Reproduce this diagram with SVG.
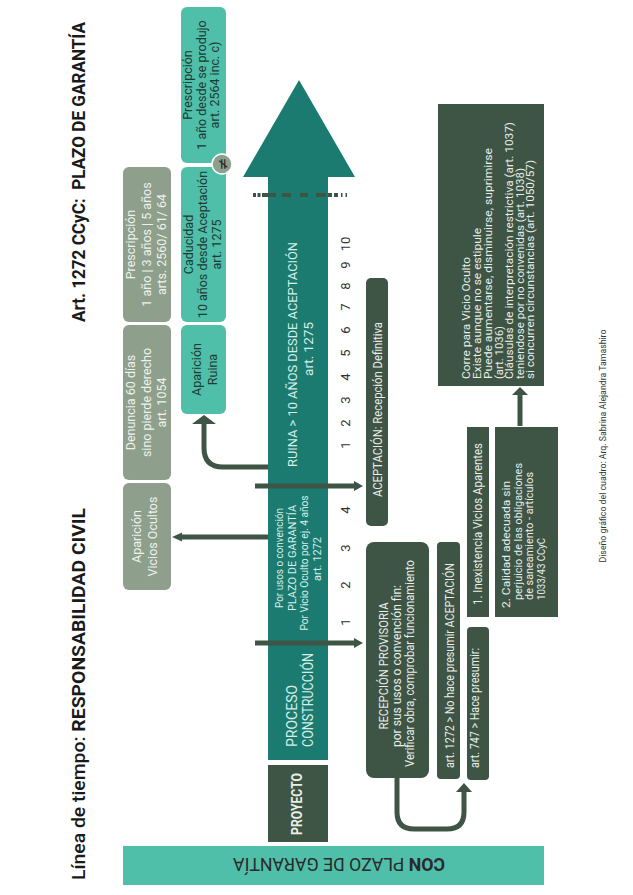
<svg xmlns="http://www.w3.org/2000/svg" width="633" height="895" viewBox="0 0 633 895">
<style>
text{font-family:Roboto,"Liberation Sans",Arial,sans-serif}
.title{font-size:18px;fill:#1a1a1a}
.b{font-weight:700}
.gg{fill:#8e9f8b}
.lt{fill:#50bfa9}
.dk{fill:#3e5444}
.teal{fill:#1c7b71}
.wg{fill:#eef2ec;font-size:12.5px}
.dt{fill:#1d3a33;font-size:12.5px}
.at{fill:#d5eee8}
.wd{fill:#e8eee8}
.num{fill:#333;font-size:13px}
.con{stroke:#3e5444;fill:none;stroke-width:5}
.hd{fill:#3e5444}
</style>
<rect width="633" height="895" fill="#fff"/>

<g id="titles">
<text class="title" transform="translate(85,880) rotate(-90)" font-size="19" textLength="372" lengthAdjust="spacingAndGlyphs"><tspan font-weight="500">Línea de tiempo: </tspan><tspan class="b">RESPONSABILIDAD CIVIL</tspan></text>
<text class="title b" transform="translate(85,322) rotate(-90)" textLength="300" lengthAdjust="spacingAndGlyphs">Art. 1272 CCyC:&#160; PLAZO DE GARANTÍA</text>
</g>

<g id="main-arrow">
<polygon class="teal" points="268,760 268,177 243,177 299,80 355,177 328,177 328,760"/>
<text class="at" font-size="13.5" transform="translate(297,467) rotate(-90)" textLength="225" lengthAdjust="spacingAndGlyphs">RUINA &gt; 10 AÑOS DESDE ACEPTACIÓN</text>
<text class="at" font-size="13.5" text-anchor="middle" transform="translate(313,349) rotate(-90)">art. 1275</text>
<text class="at" font-size="11" text-anchor="middle" transform="translate(283,558) rotate(-90)" textLength="100" lengthAdjust="spacingAndGlyphs">Por usos o convención</text>
<text class="at" font-size="11" text-anchor="middle" transform="translate(295.5,558) rotate(-90)">PLAZO DE GARANTÍA</text>
<text class="at" font-size="11" text-anchor="middle" transform="translate(308,563) rotate(-90)" textLength="135" lengthAdjust="spacingAndGlyphs">Por Vicio Oculto por ej. 4 años</text>
<text class="at" font-size="11" text-anchor="middle" transform="translate(320.5,559) rotate(-90)">art. 1272</text>
<text class="at" font-size="14" transform="translate(297,747) rotate(-90)">PROCESO</text>
<text class="at" font-size="14" transform="translate(313,747) rotate(-90)" textLength="94" lengthAdjust="spacingAndGlyphs">CONSTRUCCIÓN</text>
</g>

<g id="proyecto">
<rect class="dk" x="268" y="765" width="60" height="77"/>
<text class="wd b" font-size="14" text-anchor="middle" transform="translate(302,804) rotate(-90)" textLength="62" lengthAdjust="spacingAndGlyphs">PROYECTO</text>
</g>

<g id="numbers" class="num" text-anchor="middle">
<text transform="translate(350,622) rotate(-90)">1</text>
<text transform="translate(350,585) rotate(-90)">2</text>
<text transform="translate(350,548) rotate(-90)">3</text>
<text transform="translate(350,510) rotate(-90)">4</text>
<text transform="translate(350,445) rotate(-90)">1</text>
<text transform="translate(350,423) rotate(-90)">2</text>
<text transform="translate(350,400) rotate(-90)">3</text>
<text transform="translate(350,377) rotate(-90)">4</text>
<text transform="translate(350,353) rotate(-90)">5</text>
<text transform="translate(350,330) rotate(-90)">6</text>
<text transform="translate(350,307) rotate(-90)">7</text>
<text transform="translate(350,286) rotate(-90)">8</text>
<text transform="translate(350,265) rotate(-90)">9</text>
<text transform="translate(350,244) rotate(-90)">10</text>
</g>

<g id="prescripcion-1-3-5">
<rect class="gg" x="123" y="167" width="48" height="155" rx="6"/>
<text class="wg" text-anchor="middle" transform="translate(135,244.5) rotate(-90)">Prescripción<tspan x="0" dy="15.5">1 año | 3 años | 5 años</tspan><tspan x="0" dy="15.5">arts. 2560/ 61/ 64</tspan></text>
</g>
<g id="denuncia">
<rect class="gg" x="123" y="325" width="48" height="155" rx="6"/>
<text class="wg" text-anchor="middle" transform="translate(135,402.5) rotate(-90)">Denuncia 60 días<tspan x="0" dy="15.5">sino pierde derecho</tspan><tspan x="0" dy="15.5">art. 1054</tspan></text>
</g>
<g id="aparicion-vicios">
<rect class="gg" x="123" y="483" width="48" height="107" rx="6"/>
<text class="wg" text-anchor="middle" transform="translate(141,536.5) rotate(-90)">Aparición<tspan x="0" dy="16">Vicios Ocultos</tspan></text>
</g>

<g id="prescripcion-1-ano">
<rect class="lt" x="181" y="7" width="45" height="156" rx="6"/>
<text class="dt" text-anchor="middle" transform="translate(192,85) rotate(-90)">Prescripción<tspan x="0" dy="13.5">1 año desde se produjo</tspan><tspan x="0" dy="13.5">art. 2564 inc. c)</tspan></text>
</g>
<g id="caducidad">
<rect class="lt" x="181" y="167" width="45" height="155" rx="6"/>
<text class="dt" text-anchor="middle" transform="translate(193,244.5) rotate(-90)">Caducidad<tspan x="0" dy="13.75">10 años desde Aceptación</tspan><tspan x="0" dy="13.75">art. 1275</tspan></text>
</g>
<g id="neq">
<circle cx="222" cy="164" r="10" fill="#8e9f8b" stroke="#fff" stroke-width="1.5"/>
<text font-size="15" fill="#2a2a2a" text-anchor="middle" style="font-family:'DejaVu Sans',sans-serif" transform="translate(227.5,164) rotate(-90)">≠</text>
</g>
<g id="aparicion-ruina">
<rect class="lt" x="181" y="325" width="45" height="89" rx="6"/>
<text class="dt" font-size="13" text-anchor="middle" transform="translate(201,369.5) rotate(-90)">Aparición<tspan x="0" dy="16">Ruina</tspan></text>
</g>

<g id="aceptacion">
<rect class="dk" x="366" y="278" width="22" height="248" rx="5"/>
<text class="wd" font-size="12.5" text-anchor="middle" transform="translate(382,409.5) rotate(-90)" textLength="175" lengthAdjust="spacingAndGlyphs">ACEPTACIÓN: Recepción Definitiva</text>
</g>

<g id="recepcion-provisoria">
<rect class="dk" x="366" y="542" width="63" height="236" rx="8"/>
<text class="wd" font-size="12" text-anchor="middle" transform="translate(388,666) rotate(-90)" textLength="127" lengthAdjust="spacingAndGlyphs">RECEPCIÓN PROVISORIA</text>
<text class="wd" font-size="12" text-anchor="middle" transform="translate(401,666) rotate(-90)" textLength="162" lengthAdjust="spacingAndGlyphs">por sus usos o convención fin:</text>
<text class="wd" font-size="12" text-anchor="middle" transform="translate(414,663.5) rotate(-90)" textLength="207" lengthAdjust="spacingAndGlyphs">Verificar obra, comprobar funcionamiento</text>
</g>

<g id="art-1272">
<rect class="dk" x="437" y="542" width="23" height="237" rx="4"/>
<text class="wd" font-size="12" text-anchor="middle" transform="translate(454,665.5) rotate(-90)" textLength="205" lengthAdjust="spacingAndGlyphs">art. 1272 &gt; No hace presumir ACEPTACIÓN</text>
</g>

<g id="art-747">
<rect class="dk" x="467" y="627" width="22" height="153" rx="4"/>
<text class="wd" font-size="12" transform="translate(479,768) rotate(-90)" textLength="120" lengthAdjust="spacingAndGlyphs">art. 747 &gt; Hace presumir:</text>
</g>

<g id="inexistencia">
<rect class="dk" x="467" y="427" width="22" height="190"/>
<text class="wd" font-size="12" text-anchor="middle" transform="translate(482,524) rotate(-90)" textLength="162" lengthAdjust="spacingAndGlyphs">1. Inexistencia Vicios Aparentes</text>
</g>

<g id="calidad">
<rect class="dk" x="495" y="427" width="63" height="190"/>
<text class="wd" font-size="11" transform="translate(510,608) rotate(-90)" textLength="127" lengthAdjust="spacingAndGlyphs">2. Calidad adecuada sin</text>
<text class="wd" font-size="11" transform="translate(521.5,600) rotate(-90)" textLength="137" lengthAdjust="spacingAndGlyphs">perjuicio de las obligaciones</text>
<text class="wd" font-size="11" transform="translate(533,600) rotate(-90)" textLength="128" lengthAdjust="spacingAndGlyphs">de saneamiento - artículos</text>
<text class="wd" font-size="11" transform="translate(545,600) rotate(-90)" textLength="62" lengthAdjust="spacingAndGlyphs">1033/43 CCyC</text>
</g>

<g id="corre-vicio-oculto">
<rect class="dk" x="438" y="104" width="106" height="282"/>
<g class="wd" font-size="11.3">
<text transform="translate(470,379) rotate(-90)" textLength="122" lengthAdjust="spacingAndGlyphs">Corre para Vicio Oculto</text>
<text transform="translate(481,379) rotate(-90)" textLength="151" lengthAdjust="spacingAndGlyphs">Existe aunque no se estipule</text>
<text transform="translate(492,379) rotate(-90)" textLength="231" lengthAdjust="spacingAndGlyphs">Puede aumentarse, disminuirse, suprimirse</text>
<text transform="translate(502.5,379) rotate(-90)">(art. 1036)</text>
<text transform="translate(513,379) rotate(-90)" textLength="257" lengthAdjust="spacingAndGlyphs">Cláusulas de interpretación restrictiva (art. 1037)</text>
<text transform="translate(523.5,379) rotate(-90)" textLength="211" lengthAdjust="spacingAndGlyphs">teniendose por no convenidas (art. 1038)</text>
<text transform="translate(534,379) rotate(-90)" textLength="219" lengthAdjust="spacingAndGlyphs">si concurren circunstancias (art. 1050/57)</text>
</g>
</g>

<g id="con-plazo">
<rect class="lt" x="123" y="846" width="421" height="39"/>
<text font-size="18" fill="#2a2a2a" text-anchor="middle" transform="translate(339,858) rotate(180)" textLength="212" lengthAdjust="spacingAndGlyphs"><tspan font-weight="700">CON</tspan> PLAZO DE GARANTÍA</text>
</g>

<g id="credit">
<text font-size="9.5" fill="#333" text-anchor="middle" transform="translate(606,446) rotate(-90)" textLength="233" lengthAdjust="spacingAndGlyphs">Diseño gráfico del cuadro: Arq. Sabrina Alejandra Tamashiro</text>
</g>

<g id="connectors">
<line x1="253" y1="195" x2="347" y2="195" stroke="#3e5444" stroke-width="4" stroke-dasharray="3,1.5,3,1.5,14,6,9,9,8,8,10,2,4,2,4"/>
<path class="con" d="M255,643 H355"/>
<polygon class="hd" points="354,638 363,643 354,648"/>
<path class="con" d="M255,486 H355"/>
<polygon class="hd" points="354,481 363,486 354,491"/>
<path class="con" stroke-width="4" d="M268,537 H181"/>
<polygon class="hd" points="182,532.5 172,537 182,541.5"/>
<path class="con" d="M268,467 H223 Q204,467 204,448 V423"/>
<polygon class="hd" points="192,424 204,415 216,424"/>
<path class="con" d="M520,426 V394"/>
<polygon class="hd" points="512,395 520,387 528,395"/>
<path class="con" d="M397,778 V812 Q397,829 414,829 H447 Q464,829 464,812 V791"/>
<polygon class="hd" points="456,792 464,783 472,792"/>
</g>
</svg>
